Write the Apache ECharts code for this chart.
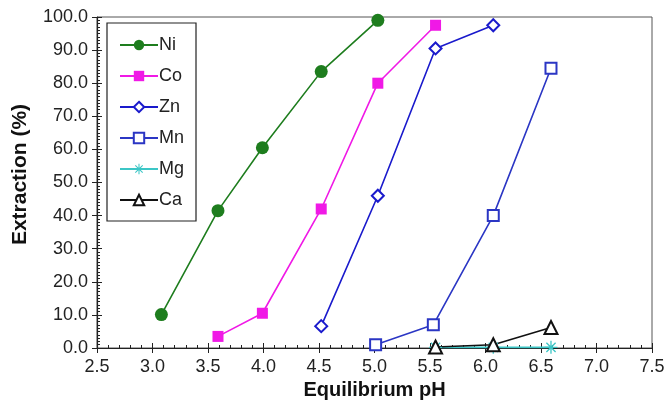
<!DOCTYPE html>
<html><head><meta charset="utf-8">
<script src="https://cdn.jsdelivr.net/npm/echarts@6/dist/echarts.min.js"></script>
<style>html,body{margin:0;padding:0;background:#fff}#c{width:664px;height:406px}</style>
</head><body><div id="c"></div>
<script>
const seriesNames = ['Ni','Co','Zn','Mn','Mg','Ca'];
const niData = [[3.08,10.1],[3.59,41.5],[3.99,60.5],[4.52,83.5],[5.03,99.0]];
const coData = [[3.59,3.5],[3.99,10.5],[4.52,42.0],[5.03,80.0],[5.55,97.5]];
const znData = [[4.52,6.6],[5.03,46.0],[5.55,90.5],[6.07,97.5]];
const mnData = [[5.01,1.0],[5.53,7.0],[6.07,40.0],[6.59,84.5]];
const mgData = [[5.55,0.2],[6.07,0.2],[6.59,0.2]];
const caData = [[5.55,0.3],[6.07,1.0],[6.59,6.2]];
const xTicks = [2.5,3.0,3.5,4.0,4.5,5.0,5.5,6.0,6.5,7.0,7.5];
const yTicks = [0,10,20,30,40,50,60,70,80,90,100];

const asterisk = 'path://M-1,-10L1,-10L1,10L-1,10Z M-10,-1L10,-1L10,1L-10,1Z M-6.36,-7.78L7.78,6.36L6.36,7.78L-7.78,-6.36Z M-7.78,6.36L6.36,-7.78L7.78,-6.36L-6.36,7.78Z';
const FONT = 'Liberation Sans, Arial, sans-serif';
const chart = echarts.init(document.getElementById('c'), null, {renderer:'canvas'});
const mk = (name, data, color, symbol, size, bw) => ({
  name, type:'line', data, symbol, symbolSize:size,
  lineStyle:{color, width:1.6}, itemStyle:{color, borderWidth:bw||0},
  emphasis:{disabled:true}, animation:false, z:3
});
const baseX = {type:'value', min:xTicks[0], max:xTicks[xTicks.length-1], interval:0.5};
const baseY = {type:'value', min:yTicks[0], max:yTicks[yTicks.length-1], interval:10};
chart.setOption({
  animation:false,
  grid:{left:97, right:12, top:17, bottom:58, show:true, borderColor:'#555', borderWidth:1,
        backgroundColor:'transparent', containLabel:false, outerBoundsMode:'none'},
  legend:{
    orient:'vertical', left:107, top:23,
    padding:[13,12,12,12], itemGap:13, itemWidth:38, itemHeight:13,
    borderColor:'#222', borderWidth:1.2, backgroundColor:'#fff',
    textStyle:{fontFamily:FONT, fontSize:18, color:'#222', padding:[0,0,0,-4]},
    data:seriesNames
  },
  xAxis:[
    Object.assign({}, baseX, {
      position:'bottom',
      name:'Equilibrium pH', nameLocation:'middle', nameGap:30,
      nameTextStyle:{fontFamily:FONT, fontSize:20, fontWeight:'bold', color:'#111'},
      axisLine:{show:true, lineStyle:{color:'#222', width:1.2}},
      axisTick:{show:true, inside:true, length:5, lineStyle:{color:'#222'}},
      minorTick:{show:true, splitNumber:5, length:3, lineStyle:{color:'#222'}},
      splitLine:{show:false},
      axisLabel:{fontFamily:FONT, fontSize:18, color:'#222', margin:10, formatter:v=>v.toFixed(1)}
    }),
    Object.assign({}, baseX, {
      position:'bottom',
      axisLine:{show:false}, axisLabel:{show:false}, splitLine:{show:false},
      axisTick:{show:true, inside:false, length:5, lineStyle:{color:'#222'}}
    })
  ],
  yAxis:[
    Object.assign({}, baseY, {
      position:'left',
      name:'Extraction (%)', nameLocation:'middle', nameGap:66, nameRotate:90,
      nameTextStyle:{fontFamily:FONT, fontSize:21, fontWeight:'bold', color:'#111', padding:[0,0,0,16]},
      axisLine:{show:true, lineStyle:{color:'#222', width:1.2}},
      axisTick:{show:true, inside:true, length:5, lineStyle:{color:'#222'}},
      minorTick:{show:true, splitNumber:10, length:3, lineStyle:{color:'#222'}},
      splitLine:{show:false},
      axisLabel:{fontFamily:FONT, fontSize:18, color:'#222', margin:9, formatter:v=>v.toFixed(1)}
    }),
    Object.assign({}, baseY, {
      position:'left',
      axisLine:{show:false}, axisLabel:{show:false}, splitLine:{show:false},
      axisTick:{show:true, inside:false, length:5, lineStyle:{color:'#222'}}
    })
  ],
  series:[
    mk('Ni', niData, '#1e7d1e', 'circle', 13),
    mk('Co', coData, '#f019e6', 'rect', 11),
    mk('Zn', znData, '#1a1acc', 'emptyDiamond', 12, 1.8),
    mk('Mn', mnData, '#2b36c4', 'emptyRect', 11, 1.8),
    mk('Mg', mgData, '#3cc6c6', asterisk, 13),
    mk('Ca', caData, '#111', 'emptyTriangle', 13, 1.8)
  ]
});
</script></body></html>
